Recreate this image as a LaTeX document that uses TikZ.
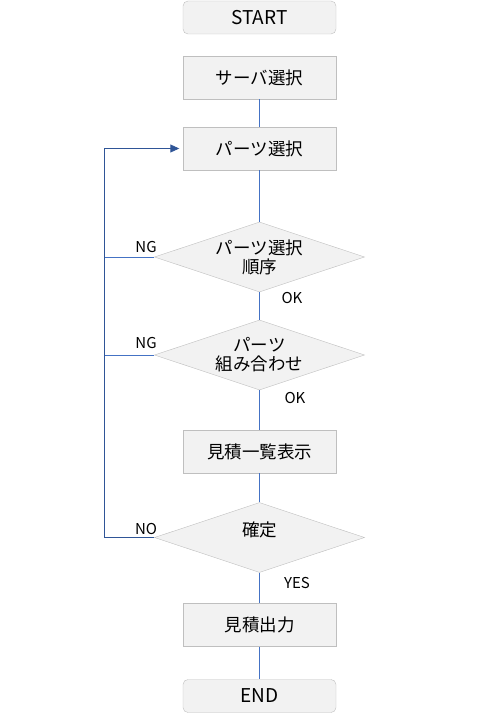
\documentclass[tikz,border=0pt]{standalone}
\usepackage{fontspec}
\setmainfont{Noto Sans CJK JP}
\usetikzlibrary{shapes.geometric,arrows.meta}

\definecolor{boxfill}{HTML}{F2F2F2}
\definecolor{boxline}{HTML}{BFBFBF}
\definecolor{flowline}{HTML}{4472C4}
\definecolor{loopline}{HTML}{2F5597}

\tikzset{
  procbox/.style={draw=boxline,fill=boxfill,minimum width=153pt,minimum height=43pt,inner sep=0pt,font=\fontsize{17.5}{19}\selectfont},
  termbox/.style={procbox,rounded corners=5pt,minimum height=33pt,font=\fontsize{19}{21}\selectfont},
  decbox/.style={draw=boxline,fill=boxfill,diamond,minimum width=210pt,minimum height=70pt,inner sep=0pt},
  dectext/.style={align=center,inner sep=0pt,font=\fontsize{17.5}{19}\selectfont},
  flow/.style={draw=flowline,line width=0.8pt},
  loopflow/.style={draw=loopline,line width=0.9pt},
  tag/.style={font=\fontsize{15}{16}\selectfont,inner sep=0pt}
}

\begin{document}
\begin{tikzpicture}[x=1pt,y=-1pt]
\useasboundingbox (0,0) rectangle (481,727);

\pgfmathsetmacro{\midX}{259.5}
\pgfmathsetmacro{\loopX}{104}

\node[termbox] (start) at (\midX,17.5) {START};
\node[procbox] (server) at (\midX,77.5) {サーバ選択};
\node[procbox] (parts) at (\midX,148.5) {パーツ選択};
\node[decbox,label={[dectext]center:パーツ選択\\順序}] (order) at (\midX,257) {};
\node[decbox,label={[dectext]center:パーツ\\組み合わせ}] (combo) at (\midX,355) {};
\node[procbox] (quote) at (\midX,451.5) {見積一覧表示};
\node[decbox,label={[dectext,yshift=8pt]center:確定}] (fix) at (\midX,537.5) {};
\node[procbox] (output) at (\midX,625) {見積出力};
\node[termbox] (end) at (\midX,696) {END};

\draw[flow] (server) -- (parts);
\draw[flow] (parts) -- (order);
\draw[flow] (order) -- (combo);
\draw[flow] (combo) -- (quote);
\draw[flow] (quote) -- (fix);
\draw[flow] (fix) -- (output);
\draw[flow] (output) -- (end);

\coordinate (orderL) at (\loopX,257);
\coordinate (comboL) at (\loopX,355);
\draw[flow] (order.west) -- (orderL);
\draw[flow] (combo.west) -- (comboL);
\draw[loopflow,-{Triangle[length=9pt,width=8pt]},shorten >=3.5pt]
  (fix.west) -| (\loopX,148.5) -- (parts.west);

\node[tag] (ng1) at (146,247) {NG};
\node[tag] (ok1) at (292,298) {OK};
\node[tag] (ng2) at (146,343.5) {NG};
\node[tag] (ok2) at (295,398) {OK};
\node[tag] (no) at (146,528.5) {NO};
\node[tag] (yes) at (297,583) {YES};

\end{tikzpicture}
\end{document}
